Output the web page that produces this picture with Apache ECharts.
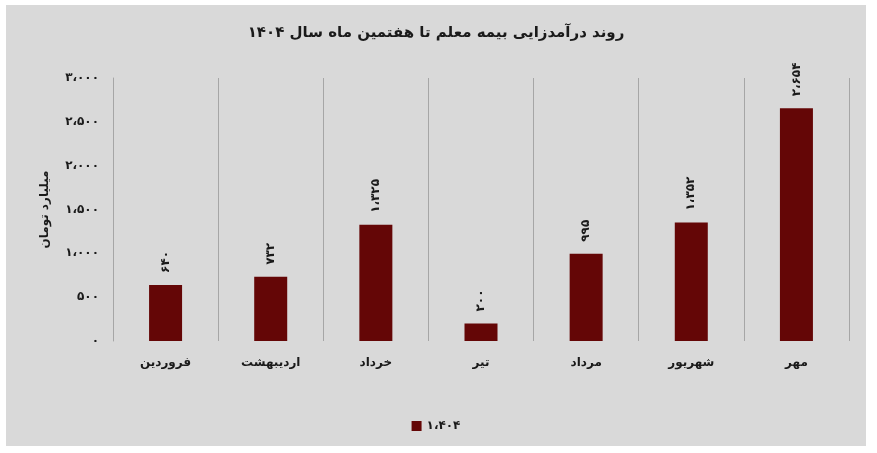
<!DOCTYPE html>
<html>
<head>
<meta charset="utf-8">
<script src="https://cdn.jsdelivr.net/npm/echarts@6/dist/echarts.min.js"></script>
<style>
html,body{margin:0;padding:0;background:#ffffff;}
#chart{position:absolute;left:6px;top:5px;width:860px;height:441px;}
</style>
</head>
<body>
<div id="chart"></div>
<script>
const titleText = 'روند درآمدزایی بیمه معلم تا هفتمین ماه سال ۱۴۰۴';
const yAxisName = 'میلیارد تومان';
const seriesName = '۱،۴۰۴';
const categories = ['فروردین', 'اردیبهشت', 'خرداد', 'تیر', 'مرداد', 'شهریور', 'مهر'];
const values = [640, 732, 1325, 200, 995, 1352, 2654];
const yTicks = [0, 500, 1000, 1500, 2000, 2500, 3000];

const FONT = 'DejaVu Sans';
function toPersian(n) {
  const s = Math.round(n).toString().replace(/\B(?=(\d{3})+(?!\d))/g, '،');
  return s.replace(/\d/g, d => '۰۱۲۳۴۵۶۷۸۹'[+d]);
}

const chart = echarts.init(document.getElementById('chart'));
chart.setOption({
  backgroundColor: '#d9d9d9',
  textStyle: { fontFamily: FONT },
  title: {
    text: titleText,
    left: 'center',
    top: 16,
    textStyle: { fontFamily: FONT, fontWeight: 'bold', fontSize: 15, color: '#1a1a1a' }
  },
  legend: {
    data: [seriesName],
    left: 'center',
    top: 410,
    itemWidth: 10,
    itemHeight: 10,
    icon: 'rect',
    textStyle: { fontFamily: FONT, fontWeight: 'bold', fontSize: 12, color: '#1a1a1a' }
  },
  grid: { left: 107, right: 17, top: 73, bottom: 105 },
  xAxis: {
    type: 'category',
    data: categories,
    axisLine: { show: false },
    axisTick: { show: false },
    axisLabel: { margin: 16, fontFamily: FONT, fontWeight: 'bold', fontSize: 12, color: '#1a1a1a' },
    splitLine: { show: true, lineStyle: { color: '#a6a6a6', width: 1 } }
  },
  yAxis: {
    type: 'value',
    min: yTicks[0],
    max: yTicks[yTicks.length - 1],
    interval: 500,
    name: yAxisName,
    nameLocation: 'middle',
    nameRotate: 90,
    nameGap: 62,
    nameTextStyle: { fontFamily: FONT, fontWeight: 'bold', fontSize: 12, color: '#1a1a1a' },
    axisLine: { show: true, lineStyle: { color: '#a6a6a6' } },
    axisTick: { show: false },
    splitLine: { show: false },
    axisLabel: {
      margin: 14,
      fontFamily: FONT, fontWeight: 'bold', fontSize: 12, color: '#1a1a1a',
      formatter: v => toPersian(v)
    }
  },
  series: [{
    name: seriesName,
    type: 'bar',
    data: values,
    barWidth: 33,
    itemStyle: { color: '#640606' },
    label: {
      show: true,
      position: 'top',
      rotate: 90,
      align: 'left',
      verticalAlign: 'middle',
      distance: 12,
      fontFamily: FONT, fontWeight: 'bold', fontSize: 12, color: '#1a1a1a',
      formatter: p => toPersian(p.value)
    }
  }],
  animation: false
});
</script>
</body>
</html>
